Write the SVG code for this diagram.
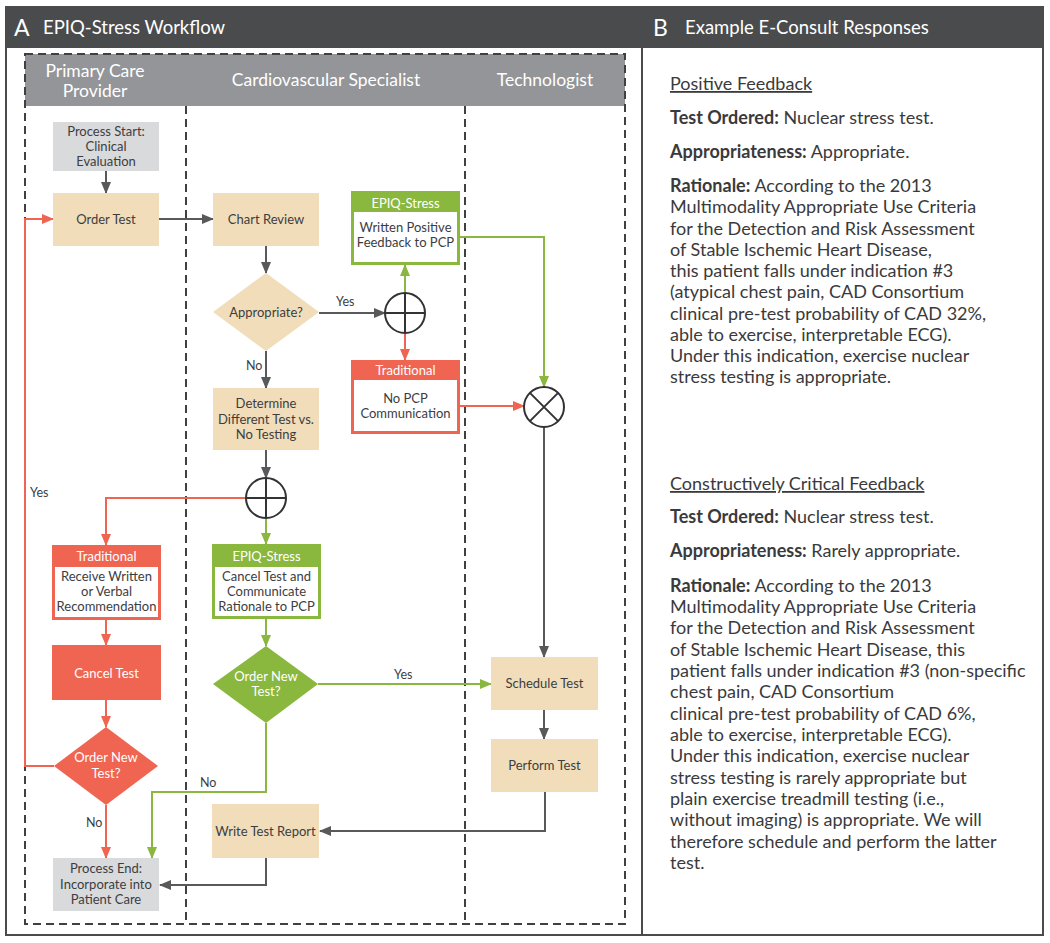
<svg xmlns="http://www.w3.org/2000/svg" width="1050" height="943" viewBox="0 0 1050 943">
<style>
text{font-family:Lato,"Noto Sans",sans-serif;}
.hd{fill:#ffffff;font-size:18.5px;}
.lane{fill:#ffffff;font-size:17.5px;text-anchor:middle;}
.nt{fill:#3d3d3f;font-size:13px;text-anchor:middle;}
.wt{fill:#ffffff;font-size:13px;text-anchor:middle;}
.lbl{fill:#3d3d3f;font-size:12.5px;}
.tan{fill:#f1ddba;}
.gry{fill:#d9dadc;}
.g{stroke:#8ab73e;stroke-width:2;fill:none;}
.r{stroke:#ef6552;stroke-width:2;fill:none;}
.k{stroke:#58595b;stroke-width:2;fill:none;}
.dash{stroke:#404042;stroke-width:2;fill:none;stroke-dasharray:8 5;}
.circ{stroke:#333335;stroke-width:2;fill:#ffffff;}
.rt{fill:#3a3a3c;font-size:18px;}
.b{font-weight:bold;}
</style>
<defs>
<marker id="ak" markerUnits="userSpaceOnUse" markerWidth="12" markerHeight="10" refX="11" refY="5" orient="auto"><path d="M0,0 L12,5 L0,10 Z" fill="#58595b"/></marker>
<marker id="ag" markerUnits="userSpaceOnUse" markerWidth="12" markerHeight="10" refX="11" refY="5" orient="auto"><path d="M0,0 L12,5 L0,10 Z" fill="#8ab73e"/></marker>
<marker id="ar" markerUnits="userSpaceOnUse" markerWidth="12" markerHeight="10" refX="11" refY="5" orient="auto"><path d="M0,0 L12,5 L0,10 Z" fill="#ef6552"/></marker>
</defs>
<rect x="0" y="0" width="1050" height="943" fill="#ffffff"/>
<g id="frame">
<rect x="6" y="7" width="1037" height="928" fill="#ffffff" stroke="#4a4b4d" stroke-width="2"/>
<rect x="6" y="7" width="1037" height="41" fill="#4a4b4d"/>
<line x1="642" y1="48" x2="642" y2="935" stroke="#4a4b4d" stroke-width="2"/>
<text x="14" y="36" class="hd" style="font-size:23px">A</text>
<text x="43" y="34" class="hd">EPIQ-Stress Workflow</text>
<text x="653" y="36" class="hd" style="font-size:23px">B</text>
<text x="685" y="34" class="hd">Example E-Consult Responses</text>
</g>
<g id="lanes">
<rect x="25" y="54" width="600" height="52" fill="#939598"/>
<rect x="25" y="54" width="600" height="870" class="dash"/>
<line x1="186" y1="106" x2="186" y2="924" class="dash"/>
<line x1="465" y1="106" x2="465" y2="924" class="dash"/>
<text x="95" y="77" class="lane">Primary Care</text>
<text x="95" y="97" class="lane">Provider</text>
<text x="326" y="86" class="lane">Cardiovascular Specialist</text>
<text x="545" y="86" class="lane">Technologist</text>
</g>
<g id="connectors">
<line x1="106" y1="171" x2="106" y2="193" class="k" marker-end="url(#ak)"/>
<line x1="159" y1="219" x2="213" y2="219" class="k" marker-end="url(#ak)"/>
<line x1="266" y1="246" x2="266" y2="273" class="k" marker-end="url(#ak)"/>
<line x1="319" y1="313" x2="385" y2="313" class="k" marker-end="url(#ak)"/>
<line x1="266" y1="351" x2="266" y2="388" class="k" marker-end="url(#ak)"/>
<line x1="266" y1="450" x2="266" y2="478" class="k" marker-end="url(#ak)"/>
<line x1="405" y1="293" x2="405" y2="265" class="g" marker-end="url(#ag)"/>
<line x1="405" y1="333" x2="405" y2="360" class="r" marker-end="url(#ar)"/>
<path d="M460,237 H544 V387" class="g" marker-end="url(#ag)"/>
<line x1="460" y1="406" x2="524" y2="406" class="r" marker-end="url(#ar)"/>
<line x1="544" y1="427" x2="544" y2="657" class="k" marker-end="url(#ak)"/>
<path d="M246,498 H106 V545" class="r" marker-end="url(#ar)"/>
<line x1="266" y1="518" x2="266" y2="544" class="g" marker-end="url(#ag)"/>
<line x1="266" y1="619" x2="266" y2="646" class="g" marker-end="url(#ag)"/>
<line x1="106" y1="620" x2="106" y2="645" class="r" marker-end="url(#ar)"/>
<line x1="106" y1="700" x2="106" y2="727" class="r" marker-end="url(#ar)"/>
<path d="M54,766 H25 V219 H53" class="r" marker-end="url(#ar)"/>
<line x1="106" y1="805" x2="106" y2="858" class="r" marker-end="url(#ar)"/>
<line x1="318" y1="684" x2="491" y2="684" class="g" marker-end="url(#ag)"/>
<path d="M266,723 V792 H152 V858" class="g" marker-end="url(#ag)"/>
<line x1="544" y1="710" x2="544" y2="739" class="k" marker-end="url(#ak)"/>
<path d="M545,792 V831 H320" class="k" marker-end="url(#ak)"/>
<path d="M266,858 V885 H160" class="k" marker-end="url(#ak)"/>
<text x="336" y="306" class="lbl">Yes</text>
<text x="246" y="370" class="lbl">No</text>
<text x="30" y="497" class="lbl">Yes</text>
<text x="394" y="679" class="lbl">Yes</text>
<text x="200" y="787" class="lbl">No</text>
<text x="86" y="827" class="lbl">No</text>
</g>
<g id="process-start">
<rect x="53" y="122" width="106" height="49" class="gry"/>
<text x="106" y="136" class="nt">Process Start:</text>
<text x="106" y="151" class="nt">Clinical</text>
<text x="106" y="166" class="nt">Evaluation</text>
</g>
<g id="order-test">
<rect x="53" y="193" width="106" height="53" class="tan"/>
<text x="106" y="224" class="nt">Order Test</text>
</g>
<g id="chart-review">
<rect x="213" y="193" width="106" height="53" class="tan"/>
<text x="266" y="224" class="nt">Chart Review</text>
</g>
<g id="appropriate">
<polygon points="266,273 319,312 266,351 213,312" class="tan"/>
<text x="266" y="317" class="nt">Appropriate?</text>
</g>
<g id="plus1">
<circle cx="405" cy="313" r="20" class="circ"/>
<path d="M385,313 H425 M405,293 V333" stroke="#333335" stroke-width="2"/>
</g>
<g id="epiq-positive">
<rect x="351" y="191" width="109" height="74" fill="#8ab73e"/>
<rect x="354" y="212" width="103" height="50" fill="#ffffff"/>
<text x="405.5" y="208" class="wt">EPIQ-Stress</text>
<text x="405.5" y="232" class="nt">Written Positive</text>
<text x="405.5" y="247" class="nt">Feedback to PCP</text>
</g>
<g id="traditional-nopcp">
<rect x="351" y="360" width="109" height="74" fill="#ef6552"/>
<rect x="354" y="380" width="103" height="51" fill="#ffffff"/>
<text x="405.5" y="375" class="wt">Traditional</text>
<text x="405.5" y="403" class="nt">No PCP</text>
<text x="405.5" y="418" class="nt">Communication</text>
</g>
<g id="xcircle">
<circle cx="544" cy="407" r="20" class="circ"/>
<path d="M529.9,392.9 L558.1,421.1 M558.1,392.9 L529.9,421.1" stroke="#333335" stroke-width="2"/>
</g>
<g id="determine">
<rect x="213" y="388" width="106" height="62" class="tan"/>
<text x="266" y="408" class="nt">Determine</text>
<text x="266" y="424" class="nt">Different Test vs.</text>
<text x="266" y="439" class="nt">No Testing</text>
</g>
<g id="plus2">
<circle cx="266" cy="498" r="20" class="circ"/>
<path d="M246,498 H286 M266,478 V518" stroke="#333335" stroke-width="2"/>
</g>
<g id="traditional-receive">
<rect x="52" y="545" width="109" height="75" fill="#ef6552"/>
<rect x="55" y="567" width="103" height="50" fill="#ffffff"/>
<text x="106.5" y="561" class="wt">Traditional</text>
<text x="106.5" y="581" class="nt">Receive Written</text>
<text x="106.5" y="596" class="nt">or Verbal</text>
<text x="106.5" y="611" class="nt">Recommendation</text>
</g>
<g id="epiq-cancel">
<rect x="212" y="544" width="109" height="75" fill="#8ab73e"/>
<rect x="215" y="567" width="103" height="49" fill="#ffffff"/>
<text x="266.5" y="561" class="wt">EPIQ-Stress</text>
<text x="266.5" y="581" class="nt">Cancel Test and</text>
<text x="266.5" y="596" class="nt">Communicate</text>
<text x="266.5" y="611" class="nt">Rationale to PCP</text>
</g>
<g id="cancel-test">
<rect x="52" y="645" width="109" height="55" fill="#ef6552"/>
<text x="106.5" y="678" class="wt">Cancel Test</text>
</g>
<g id="order-new-green">
<polygon points="266,646 318,684 266,723 213,684" fill="#8ab73e"/>
<text x="266" y="681" class="wt">Order New</text>
<text x="266" y="696" class="wt">Test?</text>
</g>
<g id="order-new-red">
<polygon points="106,727 158,766 106,805 54,766" fill="#ef6552"/>
<text x="106" y="762" class="wt">Order New</text>
<text x="106" y="778" class="wt">Test?</text>
</g>
<g id="schedule-test">
<rect x="491" y="657" width="107" height="53" class="tan"/>
<text x="544.5" y="688" class="nt">Schedule Test</text>
</g>
<g id="perform-test">
<rect x="491" y="739" width="107" height="53" class="tan"/>
<text x="544.5" y="770" class="nt">Perform Test</text>
</g>
<g id="write-report">
<rect x="212" y="804" width="107" height="54" class="tan"/>
<text x="265.5" y="836" class="nt">Write Test Report</text>
</g>
<g id="process-end">
<rect x="53" y="858" width="106" height="53" class="gry"/>
<text x="106" y="873" class="nt">Process End:</text>
<text x="106" y="889" class="nt">Incorporate into</text>
<text x="106" y="904" class="nt">Patient Care</text>
</g>
<g id="panel-b">
<text x="670" y="90" class="rt" text-decoration="underline">Positive Feedback</text>
<text x="670" y="124" class="rt"><tspan class="b">Test Ordered:</tspan> Nuclear stress test.</text>
<text x="670" y="158" class="rt"><tspan class="b">Appropriateness:</tspan> Appropriate.</text>
<text x="670" y="192" class="rt"><tspan class="b">Rationale:</tspan> According to the 2013</text>
<text x="670" y="213" class="rt">Multimodality Appropriate Use Criteria</text>
<text x="670" y="235" class="rt">for the Detection and Risk Assessment</text>
<text x="670" y="256" class="rt">of Stable Ischemic Heart Disease,</text>
<text x="670" y="277" class="rt">this patient falls under indication #3</text>
<text x="670" y="298" class="rt">(atypical chest pain, CAD Consortium</text>
<text x="670" y="320" class="rt">clinical pre-test probability of CAD 32%,</text>
<text x="670" y="341" class="rt">able to exercise, interpretable ECG).</text>
<text x="670" y="362" class="rt">Under this indication, exercise nuclear</text>
<text x="670" y="383" class="rt">stress testing is appropriate.</text>
<text x="670" y="490" class="rt" text-decoration="underline">Constructively Critical Feedback</text>
<text x="670" y="523" class="rt"><tspan class="b">Test Ordered:</tspan> Nuclear stress test.</text>
<text x="670" y="557" class="rt"><tspan class="b">Appropriateness:</tspan> Rarely appropriate.</text>
<text x="670" y="592" class="rt"><tspan class="b">Rationale:</tspan> According to the 2013</text>
<text x="670" y="613" class="rt">Multimodality Appropriate Use Criteria</text>
<text x="670" y="634" class="rt">for the Detection and Risk Assessment</text>
<text x="670" y="656" class="rt">of Stable Ischemic Heart Disease, this</text>
<text x="670" y="677" class="rt">patient falls under indication #3 (non-specific</text>
<text x="670" y="698" class="rt">chest pain, CAD Consortium</text>
<text x="670" y="720" class="rt">clinical pre-test probability of CAD 6%,</text>
<text x="670" y="741" class="rt">able to exercise, interpretable ECG).</text>
<text x="670" y="762" class="rt">Under this indication, exercise nuclear</text>
<text x="670" y="784" class="rt">stress testing is rarely appropriate but</text>
<text x="670" y="805" class="rt">plain exercise treadmill testing (i.e.,</text>
<text x="670" y="826" class="rt">without imaging) is appropriate. We will</text>
<text x="670" y="848" class="rt">therefore schedule and perform the latter</text>
<text x="670" y="869" class="rt">test.</text>
</g>
</svg>
